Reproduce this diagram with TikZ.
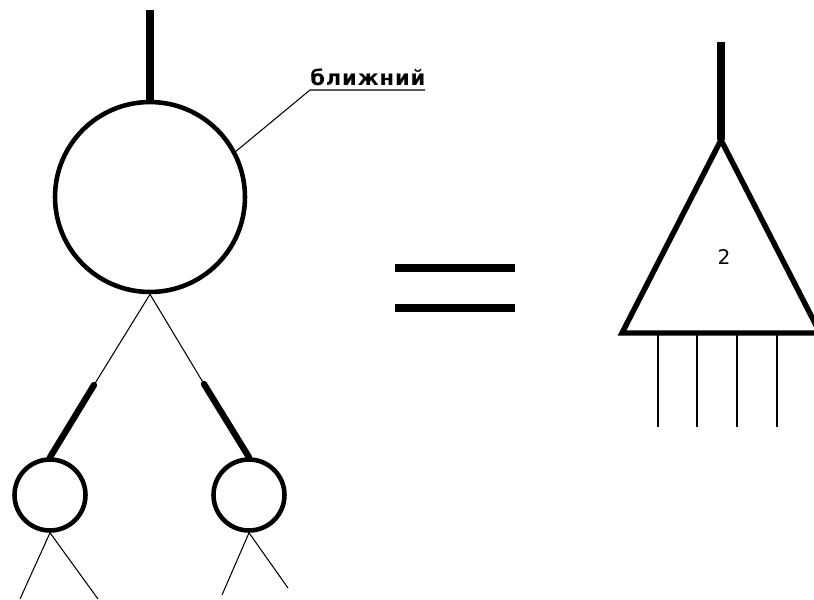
\documentclass[tikz,border=0pt]{standalone}
\usepackage{fontspec}
\newfontfamily\labfont{DejaVu Sans}
\newfontfamily\spacedfont[LetterSpace=4]{DejaVu Sans}
\tikzset{
  bignode/.style={circle,draw,line width=2.6pt,minimum size=3.8cm,inner sep=0pt},
  leafnode/.style={circle,draw,line width=2.6pt,minimum size=1.42cm,inner sep=0pt},
  stem/.style={line width=4pt},
  branch/.style={line width=3.6pt,line cap=round},
  twig/.style={line width=0.6pt},
}
\begin{document}
\begin{tikzpicture}[x=0.02cm,y=-0.02cm]
\useasboundingbox (0,0) rectangle (814,599);
\node[bignode] (big) at (150,197) {};
\node[leafnode] (left) at (50,495) {};
\node[leafnode] (right) at (249,495) {};
\coordinate (top) at (150,10);
\draw[stem] (top) -- (big.north);
\coordinate (lk) at (94,385);
\coordinate (rk) at (204,384);
\draw[twig] (big.south) -- (lk);
\draw[twig] (big.south) -- (rk);
\draw[branch] (lk) -- (left.north);
\draw[branch] (rk) -- (right.north);
\coordinate (l1) at (20,599);
\coordinate (l2) at (98,599);
\coordinate (r1) at (222,595);
\coordinate (r2) at (288,588);
\draw[twig] (left.south) -- (l1);
\draw[twig] (left.south) -- (l2);
\draw[twig] (right.south) -- (r1);
\draw[twig] (right.south) -- (r2);
\node[font=\spacedfont\bfseries\fontsize{12}{14}\selectfont,inner sep=0pt,anchor=south west] (lbl) at (310,86) {ближний};
\coordinate (u1) at (310,90);
\coordinate (u2) at (425,90);
\draw[twig] (big.28) -- (u1) -- (u2);
\draw[stem] (395,268) -- (515,268);
\draw[stem] (395,308) -- (515,308);
\coordinate (apex) at (721,140);
\coordinate (bl) at (622,333);
\coordinate (br) at (820,333);
\draw[line width=3.1pt,line join=miter] (apex) -- (bl) -- (br) -- cycle;
\coordinate (ttop) at (721,42);
\draw[stem] (ttop) -- (apex);
\node[font=\labfont\fontsize{11.5}{13}\selectfont] (num) at (724,257) {2};
\foreach \x in {658,697,737,777}
  \draw[line width=0.8pt] (\x,335) -- (\x,427);
\end{tikzpicture}
\end{document}
